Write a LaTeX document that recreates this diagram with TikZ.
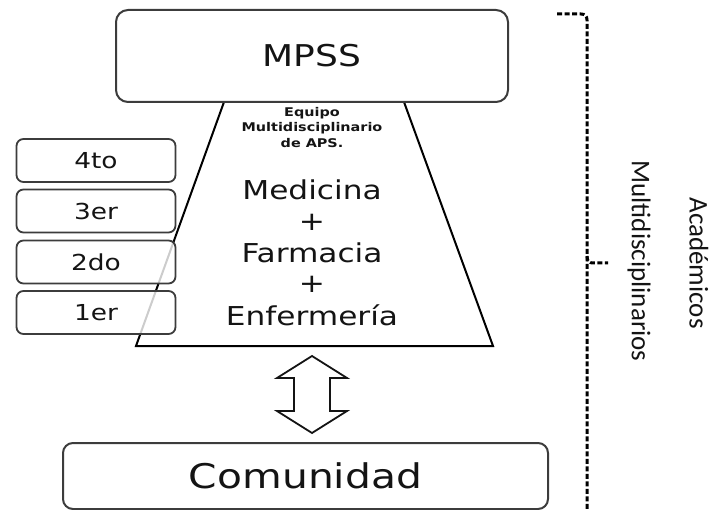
\documentclass[tikz,border=0pt]{standalone}
\usepackage{fontspec}
\newfontfamily\boxfont[FakeStretch=1.2]{DejaVu Sans}
\newfontfamily\sidefont{Carlito}
\newcommand{\fsz}[1]{\fontsize{#1}{#1}\selectfont}
\definecolor{boxline}{RGB}{60,60,60}
\definecolor{inkgray}{RGB}{20,20,20}
\tikzset{
  bigbox/.style={draw=boxline, line width=2pt, rounded corners=12pt, fill=white, text=inkgray},
  yearbox/.style={draw=boxline, line width=1.8pt, rounded corners=7pt, minimum width=159pt, minimum height=43pt,
    fill=white, fill opacity=0.8, text opacity=1, text=inkgray, font=\boxfont\fsz{22}},
  trapline/.style={draw=black, line width=2pt, line join=miter},
  trapsmall/.style={text=inkgray, font=\boxfont\bfseries\fsz{12}, inner sep=0pt},
  traptext/.style={text=inkgray, font=\boxfont\fsz{26}, inner sep=0pt},
  sidetext/.style={text=inkgray, font=\sidefont\fsz{27}, rotate=-90, inner sep=0pt},
  bracket/.style={draw=black, line width=3pt, dash pattern={on 5pt off 2.5pt}}
}
\begin{document}
\begin{tikzpicture}[x=1pt,y=1pt,yscale=-1,xscale=1]
\useasboundingbox (0,0) rectangle (717,510);

%Shape: Trapezoid
\coordinate (tl) at (224,102);
\coordinate (tr) at (404,102);
\coordinate (br) at (493,346);
\coordinate (bl) at (136,346);
\draw [trapline] (tl) -- (tr) -- (br) -- (bl) -- cycle ;

%Rounded Rect
\node [bigbox, minimum width=392pt, minimum height=92pt, font=\boxfont\fsz{30}] (mpss) at (312,56) {MPSS};

%Text Node
\node [trapsmall] (equipo) at (312,113) {Equipo};
\node [trapsmall] (multi) at (312,128) {Multidisciplinario};
\node [trapsmall] (aps) at (312,143) {de APS.};
\node [traptext] (medicina) at (312,190) {Medicina};
\node [traptext] (plusa) at (312,222) {+};
\node [traptext] (farmacia) at (312,253) {Farmacia};
\node [traptext] (plusb) at (312,284) {+};
\node [traptext] (enfermeria) at (312,315) {Enfermería};

%Rounded Rect
\node [yearbox] (cuarto) at (96,160.5) {4to};
\node [yearbox] (tercero) at (96,211) {3er};
\node [yearbox] (segundo) at (96,262) {2do};
\node [yearbox] (primero) at (96,312.5) {1er};

%Rounded Rect
\node [bigbox, rounded corners=10pt, minimum width=485pt, minimum height=66pt, font=\boxfont\fsz{34}] (comunidad) at (305.5,476) {Comunidad};

%Shape: Up Down Arrow
\draw [draw=inkgray, line width=1.8pt, fill=white, line join=miter]
  (312,356) -- (347,378) -- (330,378) -- (330,411) -- (347,411) -- (312,433)
  -- (277,411) -- (294,411) -- (294,378) -- (277,378) -- cycle ;

%Straight Lines
\coordinate (brtop) at (557,14);
\coordinate (brtip) at (608,263);
\draw [bracket] (brtop) -- (581,14) .. controls (585,14) and (587,16) .. (587,20) -- (587,510) ;
\draw [bracket] (587,256) .. controls (587,261) and (589,263) .. (593,263) -- (brtip) ;

%Text Node
\node [sidetext] (multidisc) at (639,261) {Multidisciplinarios};
\node [sidetext] (academicos) at (699,263) {Académicos};

\end{tikzpicture}
\end{document}
